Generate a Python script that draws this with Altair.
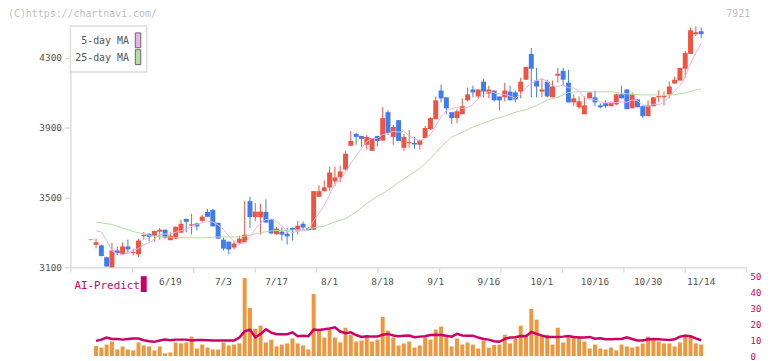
import altair as alt
import pandas as pd

# ---------------- data ----------------
OPEN = [3256, 3228, 3225, 3157, 3100, 3196, 3174, 3219, 3181, 3174,
        3279, 3292, 3281, 3304, 3315, 3255, 3264, 3298, 3377, 3339,
        3351, 3366, 3417, 3428, 3355, 3258, 3247, 3213, 3240, 3243,
        3479, 3388, 3388, 3417, 3377, 3289, 3304, 3292, 3325, 3311,
        3349, 3325, 3315, 3504, 3536, 3557, 3592, 3615, 3660, 3796,
        3864, 3853, 3802, 3768, 3853, 3826, 3989, 3847, 3943, 3785,
        3811, 3813, 3802, 3841, 3892, 3949, 4113, 4074, 3989, 3955,
        3977, 4057, 4119, 4079, 4164, 4096, 4113, 4079, 4074, 4107,
        4102, 4107, 4175, 4323, 4170, 4107, 4164, 4074, 4198, 4226,
        4158, 4045, 4017, 3977, 4068, 4074, 4028, 4040, 4023, 4034,
        4091, 4119, 4011, 4062, 4023, 3966, 4023, 4074, 4074, 4091,
        4153, 4170, 4238, 4323, 4436, 4453]
HIGH = [3260, 3264, 3230, 3160, 3240, 3219, 3242, 3258, 3206, 3264,
        3302, 3295, 3310, 3326, 3317, 3300, 3334, 3373, 3378, 3407,
        3356, 3402, 3434, 3434, 3355, 3270, 3247, 3253, 3281, 3479,
        3504, 3468, 3464, 3490, 3377, 3330, 3328, 3325, 3328, 3366,
        3362, 3330, 3536, 3570, 3598, 3677, 3677, 3683, 3768, 3881,
        3870, 3853, 3858, 3841, 3853, 4017, 4000, 3915, 3943, 3864,
        3887, 3847, 3830, 3909, 3960, 4079, 4147, 4074, 3989, 4006,
        4068, 4130, 4141, 4119, 4181, 4141, 4113, 4079, 4158, 4141,
        4113, 4187, 4249, 4357, 4243, 4181, 4175, 4170, 4243, 4243,
        4232, 4091, 4079, 4079, 4102, 4113, 4040, 4057, 4051, 4096,
        4141, 4119, 4102, 4062, 4028, 4057, 4074, 4113, 4107, 4164,
        4192, 4243, 4340, 4475, 4481, 4475]
LOW = [3254, 3209, 3162, 3102, 3098, 3170, 3172, 3179, 3168, 3158,
       3257, 3247, 3247, 3258, 3264, 3255, 3262, 3296, 3300, 3287,
       3311, 3359, 3389, 3334, 3264, 3196, 3174, 3202, 3230, 3243,
       3326, 3366, 3287, 3356, 3290, 3287, 3253, 3230, 3253, 3287,
       3311, 3311, 3315, 3504, 3536, 3538, 3564, 3587, 3655, 3796,
       3802, 3790, 3775, 3768, 3792, 3826, 3858, 3802, 3824, 3768,
       3785, 3779, 3774, 3841, 3887, 3949, 4045, 3977, 3921, 3926,
       3977, 4051, 4074, 4068, 4074, 4068, 4051, 4000, 4051, 4057,
       4045, 4068, 4175, 4074, 4074, 4074, 4074, 4074, 4158, 4141,
       4045, 4023, 4006, 3977, 4068, 4023, 4011, 4011, 4023, 4028,
       4068, 4006, 4011, 4017, 3955, 3966, 4023, 4045, 4028, 4068,
       4153, 4170, 4187, 4323, 4424, 4413]
CLOSE = [3259, 3243, 3164, 3104, 3196, 3181, 3219, 3202, 3187, 3253,
         3285, 3275, 3308, 3315, 3270, 3281, 3332, 3349, 3360, 3346,
         3334, 3390, 3389, 3334, 3264, 3207, 3202, 3236, 3264, 3287,
         3388, 3419, 3419, 3356, 3294, 3321, 3287, 3277, 3313, 3338,
         3328, 3313, 3536, 3536, 3558, 3643, 3615, 3649, 3751, 3824,
         3847, 3836, 3847, 3841, 3824, 3955, 3870, 3904, 3824, 3847,
         3817, 3804, 3830, 3898, 3955, 4057, 4068, 4011, 3955, 3994,
         4023, 4091, 4102, 4119, 4107, 4119, 4057, 4057, 4113, 4057,
         4062, 4164, 4249, 4238, 4136, 4119, 4079, 4136, 4209, 4175,
         4045, 4068, 4051, 4028, 4102, 4045, 4017, 4023, 4040, 4091,
         4068, 4006, 4091, 4017, 3966, 4028, 4074, 4081, 4081, 4136,
         4175, 4243, 4328, 4458, 4447, 4436]

MA5 = [None, 3309, 3302, 3255, 3193, 3178, 3173, 3180, 3197, 3208,
       3229, 3240, 3262, 3287, 3291, 3290, 3301, 3309, 3318, 3334,
       3344, 3356, 3364, 3359, 3342, 3317, 3279, 3249, 3235, 3239,
       3275, 3319, 3355, 3374, 3375, 3362, 3335, 3307, 3298, 3307,
       3309, 3314, 3366, 3410, 3454, 3517, 3578, 3600, 3643, 3696,
       3737, 3781, 3821, 3839, 3839, 3861, 3867, 3879, 3875, 3880,
       3852, 3839, 3824, 3839, 3861, 3909, 3962, 3998, 4009, 4017,
       4010, 4015, 4033, 4066, 4088, 4108, 4101, 4092, 4091, 4081,
       4069, 4091, 4129, 4154, 4170, 4181, 4164, 4142, 4136, 4144,
       4129, 4127, 4110, 4073, 4059, 4059, 4049, 4043, 4045, 4043,
       4048, 4046, 4059, 4055, 4030, 4022, 4035, 4033, 4046, 4080,
       4109, 4143, 4193, 4268, 4330, 4382]

MA25_IDX = [1, 4, 8, 12, 16, 20, 24, 28, 30, 32, 34, 36, 40, 42, 44, 46, 48,
            50, 52, 54, 56, 58, 60, 62, 64, 66, 68, 70, 72, 74, 76, 78, 80,
            82, 84, 86, 88, 90, 92, 94, 96, 98, 100, 102, 104, 106, 108, 110,
            112, 114, 115]
MA25 = [3359, 3345, 3305, 3277, 3270, 3268, 3274, 3274, 3283, 3298, 3309,
        3311, 3315, 3326, 3336, 3360, 3379, 3417, 3466, 3506, 3541, 3587,
        3626, 3666, 3723, 3791, 3847, 3873, 3904, 3926, 3949, 3966, 3989,
        4003, 4028, 4059, 4074, 4102, 4106, 4106, 4106, 4106, 4096, 4092,
        4088, 4088, 4085, 4090, 4099, 4116, 4122]

VOLUME = [None, 6.3, 5.4, 7.3, 9.2, 4.2, 6.1, 4.2, 3.6, 8.6,
          6.7, 6.1, 3.6, 6.1, 1.7, 2.3, 8.6, 8.0, 8.6, 12.3,
          4.8, 7.3, 5.4, 4.2, 4.2, 8.6, 6.7, 7.3, 8.0, 49.2,
          30.4, 17.3, 19.2, 8.6, 10.4, 6.1, 7.3, 8.0, 11.1, 8.0,
          6.7, 4.2, 39.2, 16.1, 11.7, 17.9, 11.7, 8.6, 17.9, 13.5,
          9.2, 9.8, 12.9, 9.2, 10.4, 24.8, 16.1, 11.7, 6.7, 8.0,
          9.2, 5.4, 6.7, 11.7, 10.4, 16.7, 18.6, 12.3, 6.1, 11.1,
          7.3, 8.6, 7.3, 4.8, 9.8, 5.4, 7.0, 7.3, 13.5, 8.0,
          11.1, 19.2, 13.5, 29.8, 23.0, 13.5, 13.5, 7.3, 17.9, 8.6,
          12.3, 11.7, 12.3, 9.2, 4.8, 7.3, 4.8, 4.2, 5.4, 3.6,
          7.3, 6.1, 5.4, 6.1, 8.0, 12.3, 10.4, 9.2, 8.0, 8.0,
          6.1, 8.6, 13.5, 12.3, 8.0, 7.3]

AI_PREDICT = [None, 9.6, 10.4, 11.7, 10.8, 10.8, 10.4, 10.8, 11.1, 11.1,
              10.0, 9.4, 9.0, 9.8, 10.4, 10.0, 10.4, 10.4, 10.4, 9.8,
              10.2, 10.2, 10.0, 9.8, 9.8, 9.8, 9.8, 9.8, 11.7, 15.6,
              16.7, 11.9, 14.0, 16.9, 14.8, 13.8, 13.8, 13.8, 15.0, 12.5,
              12.8, 12.5, 16.7, 16.5, 16.9, 17.5, 18.2, 15.5, 14.5, 15.0,
              13.3, 12.1, 12.5, 12.3, 12.3, 13.5, 14.0, 13.0, 12.5, 12.8,
              13.0, 11.9, 12.3, 12.5, 13.3, 13.5, 13.3, 12.9, 12.3, 14.0,
              13.0, 12.9, 12.9, 11.7, 10.8, 10.4, 9.4, 9.0, 10.8, 11.7,
              11.9, 12.7, 12.5, 15.2, 14.0, 12.9, 12.1, 12.1, 12.1, 12.3,
              12.7, 12.1, 11.7, 11.7, 12.1, 11.0, 11.3, 10.6, 10.6, 10.8,
              10.8, 11.9, 10.8, 9.9, 9.9, 10.6, 10.8, 10.6, 10.4, 10.2,
              10.6, 12.3, 12.9, 12.5, 11.2, 10.0]

DATE_IDX = [15, 25, 35, 45, 55, 65, 75, 85, 95, 105, 115]
DATE_LABELS = ["6/19", "7/3", "7/17", "8/1", "8/18", "9/1", "9/16",
               "10/1", "10/16", "10/30", "11/14"]
PRICE_TICKS = [3100, 3500, 3900, 4300]
VOL_TICKS = [0, 10, 20, 30, 40, 50]

# ---------------- styling ----------------
UP, DOWN = "#ef5440", "#3f7cf0"
ORANGE = "#f0963c"
CRIMSON = "#cc0066"
PINK, GREEN = "#e8b4e8", "#b4dca4"
GRAY_AX = "#dddddd"
FONT = "DejaVu Sans Mono"

XMIN, XMAX = -3.827, 123.48
xscale = alt.Scale(domain=[XMIN, XMAX], nice=False, zero=False, padding=0)
xticks = [XMIN + k * (XMAX - XMIN) / 11 for k in range(12)]
xaxis = alt.Axis(values=xticks, labels=False, title=None, grid=False,
                 orient="bottom", offset=-90, domainColor=GRAY_AX,
                 domainWidth=1.5, tickColor=GRAY_AX, tickWidth=1.5, tickSize=5)
X = alt.X("i:Q", scale=xscale, axis=xaxis)

pscale = alt.Scale(domain=[3100, 4486], range=[258, 14], nice=False, zero=False, padding=0)
vscale = alt.Scale(domain=[0, 50], range=[347.7, 267.7], nice=False, zero=False, padding=0)

n = len(OPEN)
candles = pd.DataFrame({"i": list(range(n)), "open": OPEN, "high": HIGH,
                        "low": LOW, "close": CLOSE})
candles["dir"] = ["up" if c >= o else "down" for o, c in zip(OPEN, CLOSE)]
color = alt.Color("dir:N", scale=alt.Scale(domain=["up", "down"], range=[UP, DOWN]),
                  legend=None)

ma5_df = pd.DataFrame({"i": list(range(n)), "v": MA5}).dropna()
ma25_df = pd.DataFrame({"i": MA25_IDX, "v": MA25})
vol_df = pd.DataFrame({"i": list(range(n)), "vol": VOLUME, "ai": AI_PREDICT}).dropna()
date_df = pd.DataFrame({"i": DATE_IDX, "label": DATE_LABELS})

wicks = alt.Chart(candles).mark_rule(strokeWidth=1).encode(
    x=X,
    y=alt.Y("low:Q", scale=pscale, title=None,
            axis=alt.Axis(values=PRICE_TICKS, format="d", grid=False,
                          domainColor=GRAY_AX, domainWidth=1.5, tickColor=GRAY_AX,
                          tickWidth=1.5, tickSize=6, labelPadding=3,
                          labelColor="#555555", labelFontSize=9.5, labelFont=FONT)),
    y2="high:Q", color=color)

bodies = alt.Chart(candles).mark_bar(size=5).encode(
    x=X, y=alt.Y("open:Q", scale=pscale, axis=None), y2="close:Q", color=color)

ma5_line = alt.Chart(ma5_df).mark_line(color=PINK, strokeWidth=1).encode(
    x=X, y=alt.Y("v:Q", scale=pscale, axis=None))
ma25_line = alt.Chart(ma25_df).mark_line(color=GREEN, strokeWidth=1).encode(
    x=X, y=alt.Y("v:Q", scale=pscale, axis=None))

vol_bars = alt.Chart(vol_df).mark_bar(size=4, color=ORANGE).encode(
    x=X,
    y=alt.Y("vol:Q", scale=vscale, title=None,
            axis=alt.Axis(orient="right", values=VOL_TICKS, domain=False, ticks=False,
                          grid=False, labelPadding=4, labelColor=CRIMSON,
                          labelFontSize=9, labelFont=FONT)))
ai_line = alt.Chart(vol_df).mark_line(color=CRIMSON, strokeWidth=2.5).encode(
    x=X, y=alt.Y("ai:Q", scale=vscale, axis=None))

dates = alt.Chart(date_df).mark_text(font=FONT, fontSize=9.5, color="#555555",
                                     baseline="middle").encode(
    x=X, y=alt.value(272.5), text="label:N")

one = pd.DataFrame({"k": [0]})
legend_box = alt.Chart(one).mark_rect(fill="white", stroke=GRAY_AX, strokeWidth=1.5).encode(
    x=alt.value(0), x2=alt.value(77), y=alt.value(14.5), y2=alt.value(61))
leg_t1 = alt.Chart(one).mark_text(text="5-day MA", font=FONT, fontSize=10,
                                  color="#555555", align="right", baseline="middle").encode(
    x=alt.value(59), y=alt.value(29.5))
leg_t2 = alt.Chart(one).mark_text(text="25-day MA", font=FONT, fontSize=10,
                                  color="#555555", align="right", baseline="middle").encode(
    x=alt.value(59), y=alt.value(46.5))
leg_s1 = alt.Chart(one).mark_rect(fill=PINK, stroke="#666666", strokeWidth=1).encode(
    x=alt.value(65.5), x2=alt.value(71), y=alt.value(21.5), y2=alt.value(36.5))
leg_s2 = alt.Chart(one).mark_rect(fill=GREEN, stroke="#666666", strokeWidth=1).encode(
    x=alt.value(65.5), x2=alt.value(71), y=alt.value(38.5), y2=alt.value(53.5))

ai_text = alt.Chart(one).mark_text(text="AI-Predict", font=FONT, fontSize=11,
                                   color=CRIMSON, align="left", baseline="middle").encode(
    x=alt.value(4), y=alt.value(276.5))
ai_sq = alt.Chart(one).mark_rect(fill=CRIMSON).encode(
    x=alt.value(71), x2=alt.value(77), y=alt.value(267), y2=alt.value(283))

wm = alt.Chart(one).mark_text(text="(C)https://chartnavi.com/", font=FONT, fontSize=10,
                              color="#c0c0c0", align="left", baseline="middle").encode(
    x=alt.value(-63), y=alt.value(2.5))
code = alt.Chart(one).mark_text(text="7921", font=FONT, fontSize=10, color="#c0c0c0",
                                align="right", baseline="middle").encode(
    x=alt.value(686), y=alt.value(2))

chart = alt.layer(
    wicks, bodies, ma25_line, ma5_line, vol_bars, ai_line, dates,
    legend_box, leg_t1, leg_t2, leg_s1, leg_s2, ai_text, ai_sq, wm, code
).resolve_scale(y="independent").properties(
    width=682, height=348,
    autosize=alt.AutoSizeParams(type="none"),
    padding={"left": 63, "top": 2, "right": 18, "bottom": 3},
    background="white",
).configure_view(stroke=None)

chart.save("out.html", embed_options={"renderer": "svg", "actions": False})
